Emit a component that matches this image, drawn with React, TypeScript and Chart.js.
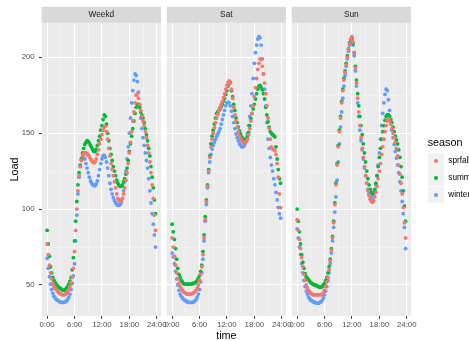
import React, { useEffect, useRef } from "react";
import { Chart, registerables } from "chart.js";

Chart.register(...registerables);

// ---- data ----
// one reading every 15 minutes through the day (hours)
const STEP_HOURS = 0.25;
const times: number[] = Array.from({ length: 96 }, (_, i) => i * STEP_HOURS);

const facets = ["Weekd", "Sat", "Sun"];
const seasons = ["sprfall", "summer", "winter"];
const seasonColors = ["#F8766D", "#00BA38", "#619CFF"];

const xTickHours = [0, 3, 6, 9, 12, 15, 18, 21, 24];
const yTicks = [50, 75, 100, 125, 150, 175, 200];

const weekdSprfall = [
  77, 70, 63, 58, 54, 51, 49, 48,
  47, 46, 45, 44.5, 44, 43.5, 43.5, 43.5,
  44, 44.5, 45.5, 47, 49, 51.5, 55, 61,
  72, 86, 100, 112, 122, 128, 132, 135,
  136.5, 137, 137, 136.5, 135.5, 134.5, 133, 132,
  131, 130.5, 131, 133, 136, 139, 143, 146,
  149, 152, 154, 154.5, 151, 146, 140, 135,
  130, 126, 122, 118, 114, 110, 107, 105.5,
  105, 105.5, 107, 110, 114, 119, 124, 130,
  137, 144, 151, 158, 164, 170, 175, 176,
  173, 169, 165, 161, 158, 155, 151, 147,
  142, 137, 131, 124, 116, 107, 96, 86,
];
const weekdSummer = [
  86, 77, 69, 62, 58, 55, 53, 51.5,
  50.5, 49.5, 48.5, 48, 47.5, 47, 46.5, 46.5,
  47, 48, 49, 50.5, 52.5, 55, 60, 68,
  79, 92, 105, 116, 124, 129, 133, 137,
  140, 142.5, 144, 145, 144.5, 143.5, 142, 140.5,
  139, 138, 138, 139.5, 142, 145, 148, 152,
  155, 159, 162, 161, 156, 150, 145, 140,
  136, 132, 128, 125, 122, 119, 117, 115.5,
  115, 115, 116, 118, 120, 123, 127, 132,
  138, 143, 148, 153, 158, 163, 167, 169,
  169, 167, 164, 162, 160, 157, 153, 149,
  145, 140, 135, 128, 121, 114, 106, 97,
];
const weekdWinter = [
  67.5, 61, 55.5, 50.5, 47, 44.5, 42.5, 41.5,
  40.5, 40, 39.5, 39, 38.5, 38.5, 38.5, 38.5,
  39, 39.5, 40.5, 42, 44, 47, 51, 56,
  64, 79, 96, 110, 121, 128, 132.5, 134.5,
  134.5, 133, 130, 127, 124, 121, 118.5, 117,
  116, 115.5, 115.5, 116.5, 118.5, 122, 126, 130,
  133, 135, 135.5, 134, 131, 127, 122, 117,
  113, 110, 107.5, 105.5, 104, 103, 102.5, 102.5,
  103, 104.5, 107, 112, 118, 125, 133, 141,
  150, 160, 170, 178, 185, 189, 188, 184,
  177, 168, 160, 153, 147, 142, 137, 132,
  127, 120, 112, 104, 97, 90, 83, 75,
];

const satSprfall = [
  81, 75, 69, 63, 58, 54, 51, 49,
  47.5, 46.5, 45.5, 45, 44.5, 44, 44, 44,
  44, 44, 44.5, 45, 45.5, 46.5, 48, 50,
  53, 57, 62, 70, 81, 93, 105, 115,
  125, 134, 141, 146, 150, 153.5, 157, 160,
  162.5, 165, 167, 169, 171, 173.5, 176, 179,
  181.5, 183.5, 184.5, 183, 179, 173, 167, 162,
  158, 154, 151, 148.5, 146.5, 145, 144, 143.5,
  143.5, 144.5, 146, 149, 153, 158, 163, 168,
  174, 180, 186, 192, 196, 199, 198.5, 194,
  189, 183, 176, 168, 160, 153, 146, 141,
  139.5, 139, 138.5, 136, 130, 121, 110, 101,
];
const satSummer = [
  90, 85, 80, 74, 67, 61, 57, 55,
  53, 52, 51, 50.5, 50.5, 50.5, 50.5, 50.5,
  50.5, 50.5, 51, 51, 51.5, 52, 53, 54.5,
  56, 59, 63, 72, 83, 95, 106, 116,
  126, 135, 143, 148, 152, 156, 160, 163,
  164, 165, 166, 167.5, 169, 171, 173, 175.5,
  178, 181, 183, 183.5, 178, 174, 169, 165,
  160, 157, 154, 151.5, 149.5, 147.5, 146.5, 145.5,
  145.5, 146, 148, 150.5, 155, 159.5, 163, 166,
  169, 172.5, 176, 179, 181, 181.5, 180, 178.5,
  176, 172.5, 167, 162, 157.5, 154, 151, 150,
  149, 148.5, 147.5, 141, 133, 126, 120, 117,
];
const satWinter = [
  71, 68.5, 64, 59, 54, 50, 46.5, 44,
  42.5, 41.5, 40.5, 40, 39.5, 39, 38.5, 38.5,
  38.5, 38.5, 38.5, 39, 39.5, 40.5, 42, 44,
  47, 52, 58, 67, 79, 92, 103, 114,
  124, 131, 136, 139.5, 142, 144, 146, 148,
  149.5, 151, 153, 156, 159, 162, 165, 168,
  170, 170.5, 170, 168, 164.5, 161, 157, 153,
  149.5, 147, 145, 143, 142, 141, 141, 141.5,
  143, 146, 150, 155, 161, 168, 176, 186,
  196, 203, 208, 212, 213.5, 213, 208, 199,
  189, 179, 168, 157, 146, 140, 134, 129,
  125, 120, 116, 111, 106, 101, 97, 94,
];

const sunSprfall = [
  93, 86, 80, 74, 68, 62, 57, 53,
  50, 48, 46.5, 45.5, 44.5, 44, 43.5, 43.5,
  43.5, 43.5, 43.5, 43.5, 43.5, 43.5, 44, 45,
  46.5, 49, 52, 55, 60, 66, 73, 81,
  91, 103, 116, 129, 141, 151, 160, 170,
  178, 185, 190, 195, 200, 205, 209, 212,
  213.5, 210, 203, 193, 183, 173, 164, 155,
  147, 140, 134, 128, 122, 117, 112, 109,
  106.5, 105, 104.5, 105.5, 108, 111, 115, 120,
  125, 130, 136, 141, 146, 151, 155, 158,
  159.5, 158.5, 156, 153, 150, 147, 144, 140,
  135, 129, 123, 117, 110, 101, 91, 81,
];
const sunSummer = [
  100, 92, 85, 77, 70, 65, 61, 57.5,
  55.5, 54.5, 53.5, 52.5, 51.5, 51, 50.5, 50,
  50, 49.5, 49, 49, 48.5, 48.5, 49, 50,
  51, 53, 55, 58, 62, 67, 74, 82,
  92, 104, 117, 130, 142, 152, 161, 171,
  179, 186, 191, 196, 201, 205.5, 209.5, 212,
  212.5, 209, 203, 194, 185, 176, 168, 161,
  155, 149, 143, 137, 131, 125, 120, 116,
  113, 111, 110.5, 111, 113, 117, 122, 128,
  134, 140, 146, 151, 155, 158.5, 161, 162,
  162, 161, 159, 157, 154, 151, 148, 145.5,
  143, 139, 134, 128, 121, 112, 102, 92,
];
const sunWinter = [
  87, 81, 75, 70, 64, 58, 53, 49,
  46, 44, 42, 41, 40, 39.5, 39, 38.5,
  38.5, 38, 38, 38, 38.5, 39, 40, 41.5,
  43.5, 46, 49, 53, 58, 64, 71, 79,
  88, 98, 108, 119, 131, 143, 154, 164,
  173, 181, 188, 194, 199, 204, 208, 210.5,
  211, 208, 201, 191, 181, 170, 161, 152,
  145, 139, 133, 127, 122, 117, 113, 110,
  108.5, 108, 108, 109.5, 112, 116, 122, 129,
  137, 146, 155, 163, 170, 175.5, 179, 178,
  172, 165, 158, 152, 147, 142.5, 138, 133.5,
  129, 124, 118, 112, 105, 97, 88, 74,
];

const facetSeries: number[][][] = [
  [weekdSprfall, weekdSummer, weekdWinter],
  [satSprfall, satSummer, satWinter],
  [sunSprfall, sunSummer, sunWinter],
];

// ---- layout ----
const W = 469;
const H = 345;
const FONT = '"Liberation Sans", Arial, Helvetica, sans-serif';
const STRIP_TOP = 6.7;
const PANEL_TOP = 22.8;
const PANEL_BOTTOM = 316.1;
const Y_MIN = 29.5;
const Y_MAX = 222.7;
const X_MIN = -1.1875;
const X_MAX = 24.9375;
const DOT_R = 1.9;
const panelX = [
  [41.7, 161],
  [166.7, 286],
  [291.7, 411],
];

const panelPlugin = {
  id: "facetPanel",
  beforeDraw(chart: any, _args: any, opts: any) {
    const { ctx, chartArea: a } = chart;
    ctx.save();
    ctx.fillStyle = "#EBEBEB";
    ctx.fillRect(a.left, a.top, a.right - a.left, a.bottom - a.top);
    ctx.fillStyle = "#D9D9D9";
    ctx.fillRect(a.left, STRIP_TOP, a.right - a.left, a.top - STRIP_TOP);
    ctx.fillStyle = "#1A1A1A";
    ctx.font = `8.3px ${FONT}`;
    ctx.textAlign = "center";
    ctx.textBaseline = "middle";
    ctx.fillText(opts.label, (a.left + a.right) / 2, (STRIP_TOP + a.top) / 2 + 0.3);
    ctx.restore();
  },
};

function Panel({ index }: { index: number }) {
  const ref = useRef<HTMLCanvasElement | null>(null);
  useEffect(() => {
    if (!ref.current) return;
    const first = index === 0;
    const [left, right] = panelX[index];
    const series = facetSeries[index];
    const chart = new Chart(ref.current, {
      type: "scatter",
      data: {
        datasets: seasons.map((s, si) => ({
          label: s,
          data: times.map((t, i) => ({ x: t, y: series[si][i] })),
          backgroundColor: seasonColors[si],
          borderWidth: 0,
          pointRadius: DOT_R,
          pointHoverRadius: DOT_R,
        })),
      },
      options: {
        animation: false,
        responsive: false,
        maintainAspectRatio: false,
        events: [],
        layout: {
          padding: {
            left: first ? 0 : left,
            right: W - right,
            top: PANEL_TOP,
            bottom: 0,
          },
        },
        plugins: {
          legend: { display: false },
          tooltip: { enabled: false },
          facetPanel: { label: facets[index] },
        } as any,
        scales: {
          x: {
            type: "linear",
            min: X_MIN,
            max: X_MAX,
            afterBuildTicks: (axis: any) => {
              axis.ticks = xTickHours.map((v) => ({ value: v }));
            },
            afterFit: (axis: any) => {
              axis.height = H - PANEL_BOTTOM;
            },
            border: { display: false },
            grid: {
              color: (c: any) =>
                c.tick && c.tick.value % 6 === 0 ? "#FFFFFF" : "rgba(255,255,255,0.6)",
              lineWidth: (c: any) => (c.tick && c.tick.value % 6 === 0 ? 1.1 : 0.55),
              tickColor: (c: any) =>
                c.tick && c.tick.value % 6 === 0 ? "#333333" : "rgba(0,0,0,0)",
              tickWidth: 1,
              tickLength: 2.7,
              drawTicks: true,
            },
            ticks: {
              autoSkip: false,
              maxRotation: 0,
              minRotation: 0,
              padding: 1.0,
              color: "#4D4D4D",
              font: { family: FONT, size: 7.8 },
              callback: (v: any) => (Number(v) % 6 === 0 ? `${v}:00` : ""),
            },
            title: {
              display: index === 1,
              text: "time",
              color: "#000000",
              font: { family: FONT, size: 10.8 },
              padding: { top: 0, bottom: 2 },
            },
          },
          y: {
            type: "linear",
            min: Y_MIN,
            max: Y_MAX,
            afterBuildTicks: (axis: any) => {
              axis.ticks = yTicks.map((v) => ({ value: v }));
            },
            afterFit: (axis: any) => {
              axis.width = first ? left : 0;
            },
            border: { display: false },
            grid: {
              color: (c: any) =>
                c.tick && c.tick.value % 50 === 0 ? "#FFFFFF" : "rgba(255,255,255,0.6)",
              lineWidth: (c: any) => (c.tick && c.tick.value % 50 === 0 ? 1.1 : 0.55),
              tickColor: (c: any) =>
                c.tick && c.tick.value % 50 === 0 ? "#333333" : "rgba(0,0,0,0)",
              tickWidth: 1,
              tickLength: first ? 2.7 : 0,
              drawTicks: first,
            },
            ticks: {
              display: first,
              autoSkip: false,
              padding: 4.3,
              color: "#4D4D4D",
              font: { family: FONT, size: 7.8 },
              callback: (v: any) => (Number(v) % 50 === 0 ? String(v) : ""),
            },
            title: {
              display: first,
              text: "Load",
              color: "#000000",
              font: { family: FONT, size: 10.8 },
              padding: { top: 8.6, bottom: 0 },
            },
          },
        },
      },
      plugins: [panelPlugin],
    });
    return () => chart.destroy();
  }, [index]);
  return (
    <canvas
      ref={ref}
      width={W}
      height={H}
      style={{ position: "absolute", left: 0, top: 0, width: W, height: H }}
    />
  );
}

export default function App() {
  return (
    <div
      style={{
        position: "fixed",
        left: 0,
        top: 0,
        width: W,
        height: 341,
        overflow: "hidden",
        background: "#FFFFFF",
        fontFamily: FONT,
      }}
    >
      {facets.map((f, i) => (
        <Panel key={f} index={i} />
      ))}
      <div
        style={{
          position: "absolute",
          left: 427.7,
          top: 136.3,
          fontSize: 10.8,
          lineHeight: "13px",
          color: "#000",
          whiteSpace: "nowrap",
        }}
      >
        season
      </div>
      {seasons.map((s, i) => (
        <React.Fragment key={s}>
          <div
            style={{
              position: "absolute",
              left: 427.7,
              top: 152.7 + i * 16.9,
              width: 16.6,
              height: 16.9,
              background: "#F2F2F2",
            }}
          >
            <div
              style={{
                position: "absolute",
                left: 8.3 - DOT_R,
                top: 8.45 - DOT_R,
                width: DOT_R * 2,
                height: DOT_R * 2,
                borderRadius: "50%",
                background: seasonColors[i],
              }}
            />
          </div>
          <div
            style={{
              position: "absolute",
              left: 448.3,
              top: 152.7 + i * 16.9 + 3.4,
              fontSize: 8.2,
              lineHeight: "10px",
              color: "#000",
              whiteSpace: "nowrap",
            }}
          >
            {s}
          </div>
        </React.Fragment>
      ))}
    </div>
  );
}
